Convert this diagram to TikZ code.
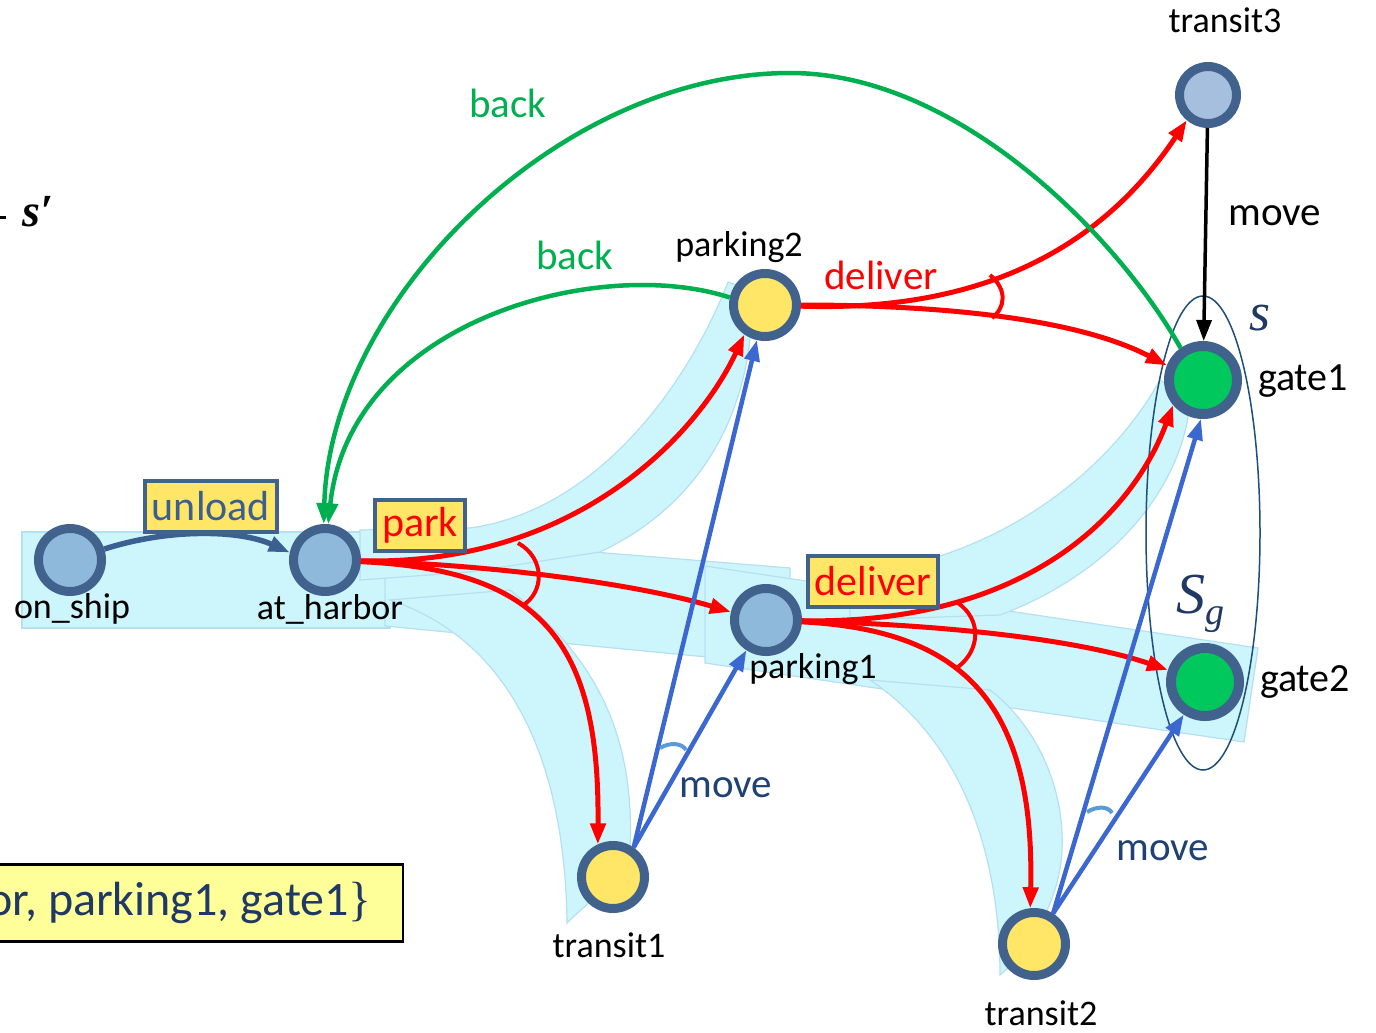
\documentclass[tikz,border=0pt]{standalone}
\usepackage{fontspec}
\setmainfont{Carlito}
\newfontfamily\serif{Liberation Serif}
\usetikzlibrary{arrows.meta}
\definecolor{nodeborder}{HTML}{42628E}
\definecolor{bluefill}{HTML}{8EB9DB}
\definecolor{yellowfill}{HTML}{FFE666}
\definecolor{greenfill}{HTML}{00C85C}
\definecolor{tthreefill}{HTML}{A7BFDF}
\definecolor{greenE}{HTML}{00B050}
\definecolor{blueE}{HTML}{3A68D0}
\definecolor{movetxt}{HTML}{1F4173}
\definecolor{unloadc}{HTML}{3C5F92}
\definecolor{navy}{HTML}{1F3864}
\definecolor{bandfill}{HTML}{CDF5FC}
\definecolor{bandedge}{HTML}{B5E0F2}
\definecolor{boxyellow}{HTML}{FFFF99}
\definecolor{arcblue}{HTML}{5B9BD5}
\definecolor{ellc}{HTML}{1F4E79}
\begin{document}
\begin{tikzpicture}[x=1pt,y=-1pt,
  st/.style={circle, draw=nodeborder, line width=9pt, minimum size=63pt, inner sep=0pt},
  gst/.style={st, line width=10pt, minimum size=68pt},
  lbl/.style={font=\fontsize{36}{36}\selectfont, text=black, inner sep=0pt},
  glbl/.style={font=\fontsize{40}{40}\selectfont, text=black, inner sep=0pt},
  elbl/.style={font=\fontsize{41}{41}\selectfont, inner sep=0pt},
  lbox/.style={fill=yellowfill, draw=nodeborder, line width=4pt, inner xsep=7pt, inner ysep=0pt, minimum height=51pt, font=\fontsize{42}{42}\selectfont},
  arr/.style={-{Triangle[length=21pt,width=15pt]}},
  redline/.style={draw=red, line width=5pt, arr},
  greenline/.style={draw=greenE, line width=4.5pt, arr},
  blueline/.style={draw=blueE, line width=4.5pt, arr},
  band/.style={fill=bandfill, draw=bandedge, line width=1.2pt}
]
\clip (0,0) rectangle (1376,1033);
\fill[white] (0,0) rectangle (1376,1033);

% ---- bands
\path[band] (22,532) rectangle (390,628);
\path[band] (385,535) -- (790,568) -- (790,665) -- (385,626) -- cycle;
\path[band] (360,530) -- (470,528) .. controls (600,510) and (690,380) .. (728,282)
  -- (752,290) .. controls (755,400) and (710,500) .. (600,552) -- (470,572) -- (360,580) -- cycle;
\path[band] (390,600) .. controls (510,640) and (565,760) .. (567,923)
  .. controls (590,900) and (615,885) .. (630,850)
  .. controls (635,740) and (600,660) .. (510,590) -- cycle;
\path[band] (705,566) -- (1258,648) -- (1244,742) -- (705,663) -- cycle;
\path[band] (850,575) .. controls (1000,560) and (1110,470) .. (1160,380)
  -- (1190,400) .. controls (1185,480) and (1120,570) .. (1000,615) -- (850,620) -- cycle;
\path[band] (870,680) .. controls (960,740) and (1000,850) .. (1000,975)
  .. controls (1030,950) and (1060,900) .. (1062,850)
  .. controls (1065,780) and (1030,720) .. (990,690) -- cycle;

% ---- ellipse around goal states
\draw[ellc, line width=1.5pt] (1203,533) ellipse [x radius=57, y radius=237];

% ---- states
\node[st, fill=bluefill] (os) at (70,560) {};
\node[st, fill=bluefill] (ah) at (325,560) {};
\node[st, fill=yellowfill] (p2) at (765,305) {};
\node[st, fill=bluefill] (p1) at (766,620) {};
\node[st, fill=yellowfill] (t1) at (613,877) {};
\node[st, fill=yellowfill] (t2) at (1034,944) {};
\node[st, fill=tthreefill, minimum size=57pt] (t3) at (1208,95) {};
\node[gst, fill=greenfill] (g1) at (1203,380) {};
\node[gst, fill=greenfill] (g2) at (1205,682) {};

% ---- state labels
\node[lbl] (los) at (72,609) {on\_ship};
\node[lbl] (lah) at (330,609) {at\_harbor};
\node[lbl] (lp2) at (739,247) {parking2};
\node[lbl] (lp1) at (813,669) {parking1};
\node[lbl] (lt1) at (609,945) {transit1};
\node[lbl] (lt2) at (1041,1013) {transit2};
\node[lbl] (lt3) at (1225,20) {transit3};
\node[glbl] (lg1) at (1303,381) {gate1};
\node[glbl] (lg2) at (1305,682) {gate2};

% ---- connectors
\draw[unloadc, line width=5.5pt, arr] (os) .. controls (170,528) and (240,530) .. (ah.168);
\draw[redline] (ah) .. controls (580,566) and (700,430) .. (p2.235);
\draw[redline] (ah) .. controls (500,565) and (640,585) .. (p1.167);
\draw[redline] (ah) .. controls (540,570) and (600,640) .. (t1.115);
\draw[redline] (p2) .. controls (980,312) and (1100,250) .. (t3.230);
\draw[redline] (p2) .. controls (950,305) and (1080,320) .. (g1.158);
\draw[redline] (p1) .. controls (1020,625) and (1130,520) .. (g1.220);
\draw[redline] (p1) .. controls (950,625) and (1080,640) .. (g2.162);
\draw[redline] (p1) .. controls (960,630) and (1035,700) .. (t2.96);
\draw[greenline] (g1.125) .. controls (1120,240) and (960,73) .. (790,73)
  .. controls (560,73) and (330,300) .. (ah.92);
\draw[greenline] (p2.168) .. controls (600,255) and (350,320) .. (ah.85);
\draw[black, line width=3.5pt, arr] (t3) -- (g1);
\draw[blueline] (t1.55) -- (p2.257);
\draw[blueline] (t1.55) -- (p1.237);
\draw[blueline] (t2.58) -- (g1.267);
\draw[blueline] (t2.58) -- (g2.237);

% ---- and-arcs
\draw[red, line width=4pt] (518,543) .. controls (545,558) and (545,592) .. (522,606);
\draw[red, line width=4pt] (958,603) .. controls (982,620) and (980,650) .. (958,667);
\draw[red, line width=4pt] (990,275) .. controls (1008,290) and (1005,308) .. (992,318);
\draw[arcblue, line width=4pt] (660,748) .. controls (670,742) and (682,743) .. (686,750);
\draw[arcblue, line width=4pt] (1087,812) .. controls (1097,806) and (1108,806) .. (1112,813);

% ---- action labels
\node[lbox, text=unloadc] (lunload) at (211,506) {unload};
\node[lbox, text=red] (lpark) at (420,525) {park};
\node[lbox, text=red] (ldel1) at (873,581) {deliver};
\node[elbl, text=red] (ldel2) at (881,275) {deliver};
\node[elbl, text=greenE] (lback1) at (508,103) {back};
\node[elbl, text=greenE] (lback2) at (575,255) {back};
\node[elbl, text=black] (lmove3) at (1275,216) {move};
\node[elbl, text=movetxt] (lmove1) at (726,788) {move};
\node[elbl, text=movetxt] (lmove2) at (1163,851) {move};

% ---- set labels
\node[text=navy, font=\serif\itshape\fontsize{54}{54}\selectfont, inner sep=0pt] (ls) at (1260,318) {s};
\node[text=navy, font=\serif\itshape\fontsize{58}{58}\selectfont, inner sep=0pt] (lsg) at (1200,604) {S\raisebox{-11pt}{\fontsize{38}{38}\selectfont g}};

% ---- top-left fragment
\draw[black, line width=3pt] (0,217) -- (6,217);
\node[text=black, font=\serif\bfseries\itshape\fontsize{46}{46}\selectfont, inner sep=0pt] (lsp) at (38,212) {s′};

% ---- bottom-left state box
\node[draw=black, line width=2.5pt, fill=boxyellow, minimum height=77pt, minimum width=420pt] (sbox) at (193,903) {};
\node[anchor=east, text=navy, font=\fontsize{48}{48}\selectfont, inner sep=0pt] (stext) at (372,903) {or, parking1, gate1{\serif\}}};
\end{tikzpicture}
\end{document}
